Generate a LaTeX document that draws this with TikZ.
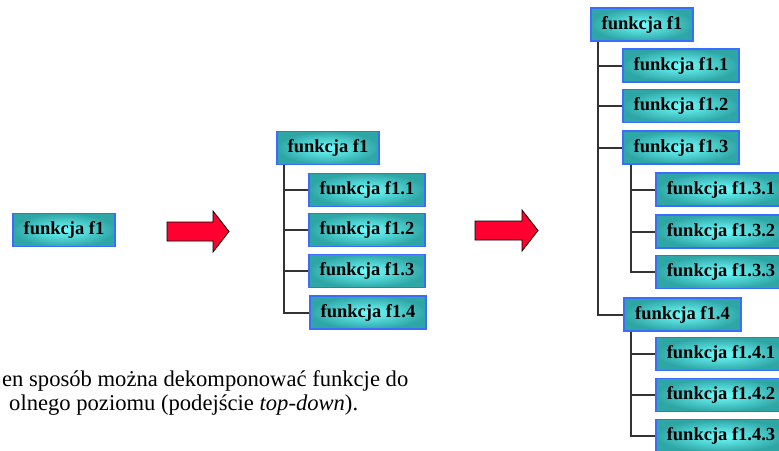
\documentclass[tikz,border=0pt]{standalone}
\usepackage{fontspec}
\setmainfont{Liberation Serif}
\definecolor{fTeal}{HTML}{2FA6A6}
\definecolor{fCyan}{HTML}{70FFFF}
\definecolor{fBlue}{HTML}{3C6CFF}
\definecolor{fLine}{HTML}{333333}
\definecolor{fRed}{HTML}{FF0030}
\usetikzlibrary{positioning,calc}
\newcommand{\fnode}[4]{%
 \node[draw=fBlue, line width=1.5pt, inner color=fCyan, outer color=fTeal, minimum width=#4, minimum height=33pt, inner sep=0pt, font=\fontsize{18.5}{20}\selectfont\bfseries] (#1) at (#2) {#3};}
\newcommand{\redarrow}[3]{%
 \draw[fill=fRed, draw=black, line width=0.8pt] (#1,#2-9.5) -- ({#1+#3-16},#2-9.5) -- ({#1+#3-16},#2-20.5) -- ({#1+#3},#2) -- ({#1+#3-16},#2+20.5) -- ({#1+#3-16},#2+9.5) -- (#1,#2+9.5) -- cycle;}

\begin{document}
\begin{tikzpicture}[x=1pt, y=-1pt]
\clip (0,0) rectangle (779,450);
\fill[white] (0,0) rectangle (779,450);
\fnode{a}{64,230}{funkcja f1}{102pt}
\redarrow{167}{231.5}{62}
\fnode{m}{328,148}{funkcja f1}{102pt}
\fnode{m1}{367,190}{funkcja f1.1}{116pt}
\fnode{m2}{367,230}{funkcja f1.2}{116pt}
\fnode{m3}{367,271}{funkcja f1.3}{116pt}
\fnode{m4}{368,312.5}{funkcja f1.4}{116pt}
\draw[fLine, line width=2pt] ([xshift=8pt]m.south west) |- (m1.west);
\draw[fLine, line width=2pt] ([xshift=8pt]m.south west) |- (m2.west);
\draw[fLine, line width=2pt] ([xshift=8pt]m.south west) |- (m3.west);
\draw[fLine, line width=2pt] ([xshift=8pt]m.south west) |- (m4.west);
\redarrow{475}{230.5}{63}
\fnode{r}{642,24.5}{funkcja f1}{102pt}
\fnode{r1}{681,65.5}{funkcja f1.1}{116pt}
\fnode{r2}{681,106}{funkcja f1.2}{116pt}
\fnode{r3}{681,147.5}{funkcja f1.3}{116pt}
\fnode{r31}{721,189.5}{funkcja f1.3.1}{130pt}
\fnode{r32}{721,231.5}{funkcja f1.3.2}{130pt}
\fnode{r33}{721,272}{funkcja f1.3.3}{130pt}
\fnode{r4}{682.5,314.5}{funkcja f1.4}{117pt}
\fnode{r41}{721,354}{funkcja f1.4.1}{130pt}
\fnode{r42}{721,395}{funkcja f1.4.2}{130pt}
\fnode{r43}{721,436}{funkcja f1.4.3}{130pt}
\draw[fLine, line width=2pt] ([xshift=8pt]r.south west) |- (r1.west);
\draw[fLine, line width=2pt] ([xshift=8pt]r.south west) |- (r2.west);
\draw[fLine, line width=2pt] ([xshift=8pt]r.south west) |- (r3.west);
\draw[fLine, line width=2pt] ([xshift=8pt]r.south west) |- (r4.west);
\draw[fLine, line width=2pt] ([xshift=9pt]r3.south west) |- (r31.west);
\draw[fLine, line width=2pt] ([xshift=9pt]r3.south west) |- (r32.west);
\draw[fLine, line width=2pt] ([xshift=9pt]r3.south west) |- (r33.west);
\draw[fLine, line width=2pt] ([xshift=8pt]r4.south west) |- (r41.west);
\draw[fLine, line width=2pt] ([xshift=8pt]r4.south west) |- (r42.west);
\draw[fLine, line width=2pt] ([xshift=8pt]r4.south west) |- (r43.west);
\node[anchor=base west, inner sep=0pt, font=\fontsize{22.6}{24}\selectfont] (t1) at (2,386) {en sposób można dekomponować funkcje do};
\node[anchor=base west, inner sep=0pt, font=\fontsize{22.6}{24}\selectfont] (t2) at (9,410) {olnego poziomu (podejście \textit{top-down}).};
\end{tikzpicture}
\end{document}
